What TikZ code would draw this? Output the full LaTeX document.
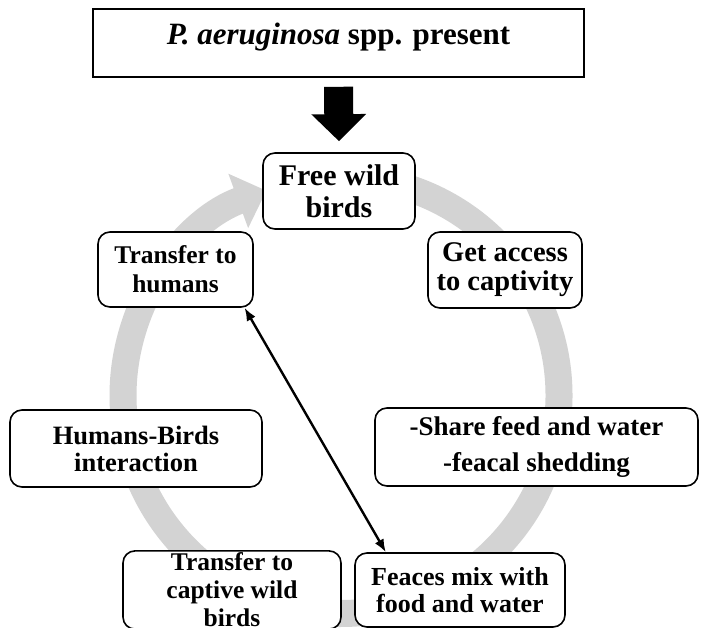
\documentclass[tikz,border=0pt]{standalone}
\usepackage{fontspec}
\setmainfont{Liberation Serif}
\usetikzlibrary{arrows.meta}
\definecolor{ringgray}{RGB}{211,211,211}
\begin{document}
\begin{tikzpicture}[x=1pt,y=-1pt,
    stagebox/.style={draw,line width=1.6pt,rounded corners=12pt,fill=white,align=center,inner sep=2pt},
    >={Latex[length=13pt,width=10pt]}]
                \useasboundingbox (0,0) rectangle (706,628);
                \coordinate (RingCenter) at (341,395.5);

                \draw[ringgray,line width=27pt,-{Triangle[width=56pt,length=30pt]}] (RingCenter) ++(-85:218) arc[start angle=-85,end angle=250,radius=218];

                \node[draw,line width=1.6pt,fill=white,minimum width=491pt,minimum height=68pt,text height=21pt,text depth=17pt,font=\bfseries\fontsize{31}{33}\selectfont] (Present) at (338.5,43) {\textit{P. aeruginosa} spp. present};
                \node[stagebox,minimum width=152pt,minimum height=76pt,font=\bfseries\fontsize{30}{32}\selectfont] (FreeBirds) at (339,191) {Free wild\\birds};
                \node[stagebox,minimum width=155pt,minimum height=75pt,font=\bfseries\fontsize{25.5}{29}\selectfont] (ToHumans) at (175.5,269.5) {Transfer to\\humans};
                \node[stagebox,minimum width=154pt,minimum height=76pt,font=\bfseries\fontsize{28.5}{29}\selectfont] (Captivity) at (505,270) {Get access\\to captivity};
                \node[stagebox,minimum width=323pt,minimum height=78pt,font=\bfseries\fontsize{27}{36}\selectfont] (Shedding) at (536.5,447) {-Share feed and water\\-feacal shedding};
                \node[stagebox,minimum width=252pt,minimum height=77pt,font=\bfseries\fontsize{26.5}{27}\selectfont] (Interaction) at (136,448.5) {Humans-Birds\\interaction};
                \node[stagebox,minimum width=218pt,minimum height=74pt,font=\bfseries\fontsize{25.5}{28}\selectfont] (ToCaptive) at (232,590) {Transfer to\\captive wild\\birds};
                \node[stagebox,minimum width=210pt,minimum height=74pt,font=\bfseries\fontsize{26}{27}\selectfont] (Feaces) at (460,590) {Feaces mix with\\food and water};

                \draw[line width=29pt,-{Triangle[width=53pt,length=27pt]}] ([yshift=-9pt]Present.south) -- ([yshift=11pt]FreeBirds.north);
                \draw[<->,line width=2.4pt] (ToHumans.-29) -- (Feaces.153);
            \end{tikzpicture}
\end{document}
